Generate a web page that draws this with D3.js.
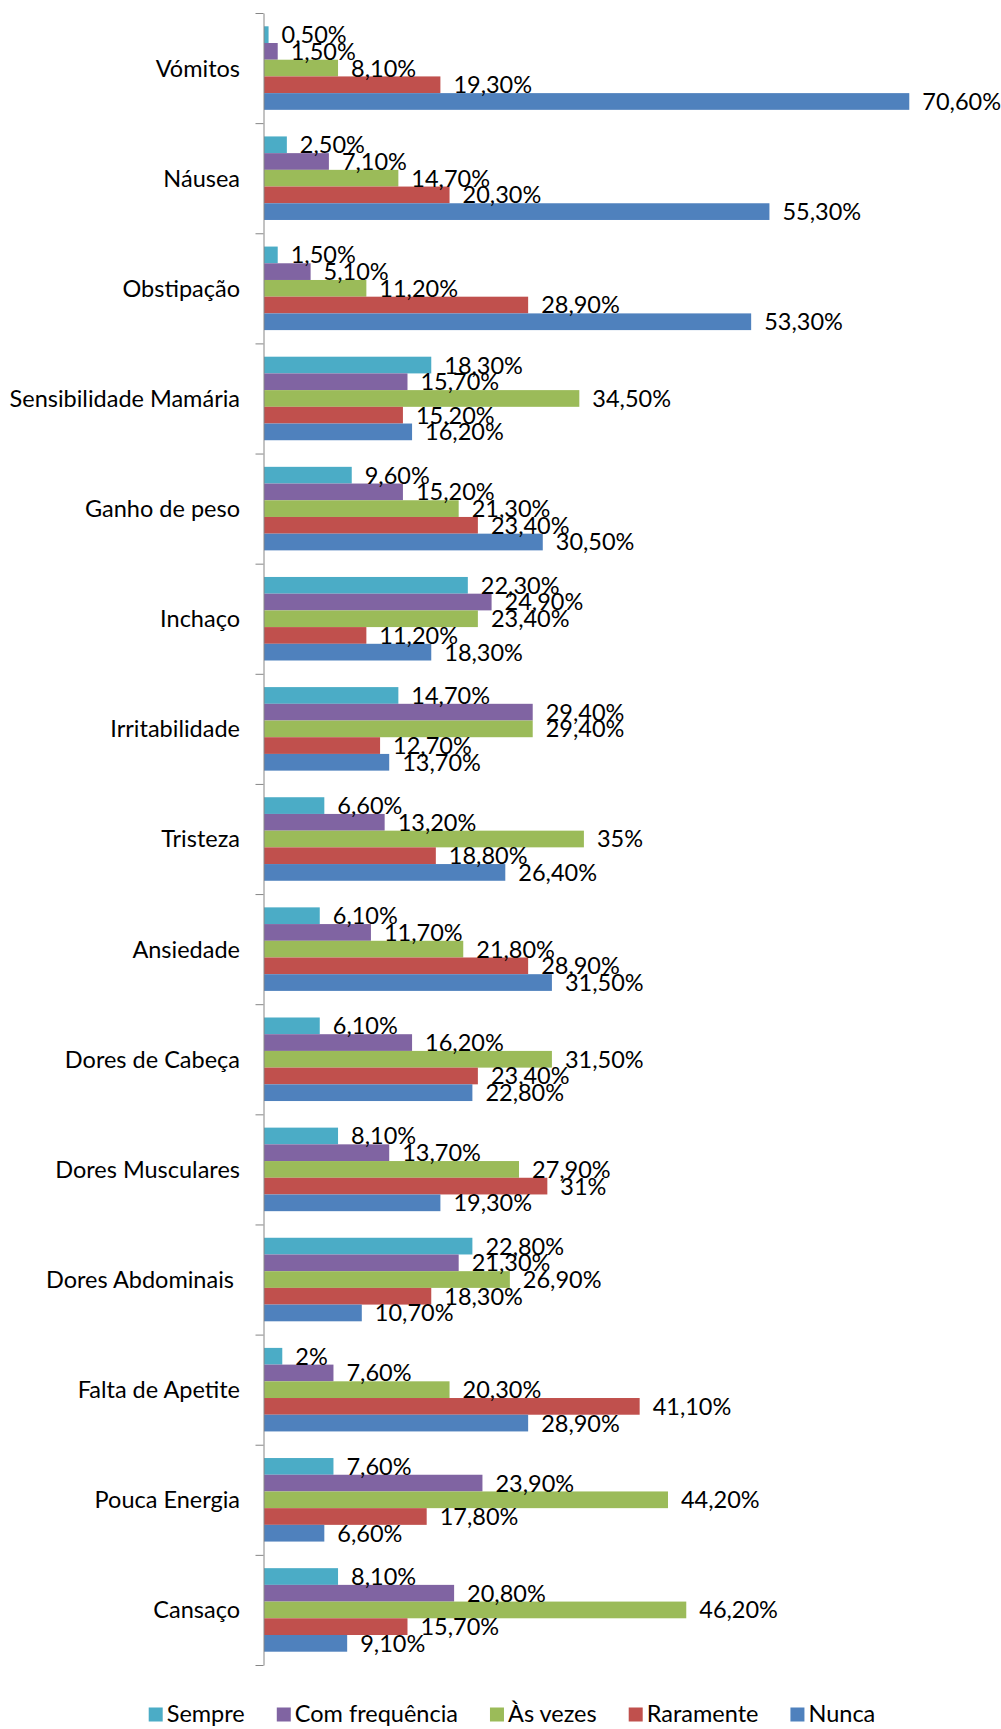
<!DOCTYPE html>
<html>
<head>
<meta charset="utf-8">
<script src="https://cdn.jsdelivr.net/npm/d3@7"></script>
<style>
  body { margin: 0; background: #fff; }
  text { font-family: Lato, "Open Sans", sans-serif; fill: #000; }
</style>
</head>
<body>
<svg id="chart" width="1001" height="1729"></svg>
<script>
// Symptoms, listed top to bottom
const categories = [
  "Vómitos", "Náusea", "Obstipação", "Sensibilidade Mamária", "Ganho de peso",
  "Inchaço", "Irritabilidade", "Tristeza", "Ansiedade", "Dores de Cabeça",
  "Dores Musculares", "Dores Abdominais ", "Falta de Apetite", "Pouca Energia", "Cansaço"
];

// Frequency answers (series), in the order drawn inside each group
const seriesNames = ["Sempre", "Com frequência", "Às vezes", "Raramente", "Nunca"];
const seriesColors = ["#4BACC6", "#8064A2", "#9BBB59", "#C0504D", "#4F81BD"];

// Percentages per symptom, one array per answer
const sempre        = [0.5, 2.5, 1.5, 18.3, 9.6, 22.3, 14.7, 6.6, 6.1, 6.1, 8.1, 22.8, 2, 7.6, 8.1];
const comFrequencia = [1.5, 7.1, 5.1, 15.7, 15.2, 24.9, 29.4, 13.2, 11.7, 16.2, 13.7, 21.3, 7.6, 23.9, 20.8];
const asVezes       = [8.1, 14.7, 11.2, 34.5, 21.3, 23.4, 29.4, 35, 21.8, 31.5, 27.9, 26.9, 20.3, 44.2, 46.2];
const raramente     = [19.3, 20.3, 28.9, 15.2, 23.4, 11.2, 12.7, 18.8, 28.9, 23.4, 31, 18.3, 41.1, 17.8, 15.7];
const nunca         = [70.6, 55.3, 53.3, 16.2, 30.5, 18.3, 13.7, 26.4, 31.5, 22.8, 19.3, 10.7, 28.9, 6.6, 9.1];

const seriesValues = [sempre, comFrequencia, asVezes, raramente, nunca];

// Layout
const axisX = 263.5;
const plotTop = 13, plotBottom = 1665;
const pxPerPercent = 9.14;
const fontSize = 23.5;

const svg = d3.select("#chart");

const x = d3.scaleLinear().domain([0, 80]).range([axisX + 0.5, axisX + 0.5 + 80 * pxPerPercent]);
const y = d3.scaleBand().domain(categories).range([plotTop, plotBottom]);
const groupPad = 13.3;
const yInner = d3.scaleBand().domain(seriesNames).range([groupPad, y.bandwidth() - groupPad]);

const fmt = v => (Number.isInteger(v) ? String(v) : v.toFixed(2).replace(".", ",")) + "%";

// Bars
const rows = categories.map((c, i) => ({
  cat: c,
  vals: seriesNames.map((s, j) => ({ series: s, color: seriesColors[j], value: seriesValues[j][i] }))
}));

const groups = svg.append("g").selectAll("g")
  .data(rows).join("g")
  .attr("transform", d => `translate(0,${y(d.cat)})`);

groups.selectAll("rect")
  .data(d => d.vals).join("rect")
  .attr("x", x(0))
  .attr("y", d => yInner(d.series))
  .attr("width", d => x(d.value) - x(0))
  .attr("height", yInner.bandwidth())
  .attr("fill", d => d.color);

// Value labels
groups.selectAll("text.val")
  .data(d => d.vals).join("text")
  .attr("class", "val")
  .attr("x", d => x(d.value) + 13)
  .attr("y", d => yInner(d.series) + yInner.bandwidth() / 2)
  .attr("dy", "0.36em")
  .style("font-size", fontSize + "px")
  .text(d => fmt(d.value));

// Category axis with ticks at group boundaries
const tickScale = d3.scaleLinear().domain([0, categories.length]).range([plotTop, plotBottom]);
const axis = svg.append("g")
  .attr("transform", `translate(${axisX},0)`)
  .call(d3.axisLeft(tickScale).tickValues(d3.range(categories.length + 1)).tickSize(8).tickSizeOuter(0).tickFormat(""));
axis.select(".domain").attr("stroke", "#868686");
axis.selectAll(".tick line").attr("stroke", "#868686");

// Category labels
svg.append("g").selectAll("text")
  .data(categories).join("text")
  .attr("x", 240)
  .attr("y", d => y(d) + y.bandwidth() / 2)
  .attr("dy", "0.36em")
  .attr("text-anchor", "end")
  .style("font-size", fontSize + "px")
  .style("white-space", "pre")
  .text(d => d);

// Legend
const legend = svg.append("g");
const legendY = 1713.5, sw = 14, gapAfterSwatch = 4, gapBetween = 32;
const items = legend.selectAll("g").data(seriesNames).join("g");
items.append("rect")
  .attr("width", sw).attr("height", sw)
  .attr("y", legendY - sw / 2 + 1)
  .attr("fill", (d, i) => seriesColors[i]);
items.append("text")
  .attr("x", sw + gapAfterSwatch)
  .attr("y", legendY)
  .attr("dy", "0.36em")
  .style("font-size", fontSize + "px")
  .text(d => d);
let widths = [];
items.each(function () { widths.push(sw + gapAfterSwatch + d3.select(this).select("text").node().getComputedTextLength()); });
const total = d3.sum(widths) + gapBetween * (widths.length - 1);
let cx = 512 - total / 2;
items.attr("transform", (d, i) => {
  const t = `translate(${cx},0)`;
  cx += widths[i] + gapBetween;
  return t;
});
</script>
</body>
</html>
